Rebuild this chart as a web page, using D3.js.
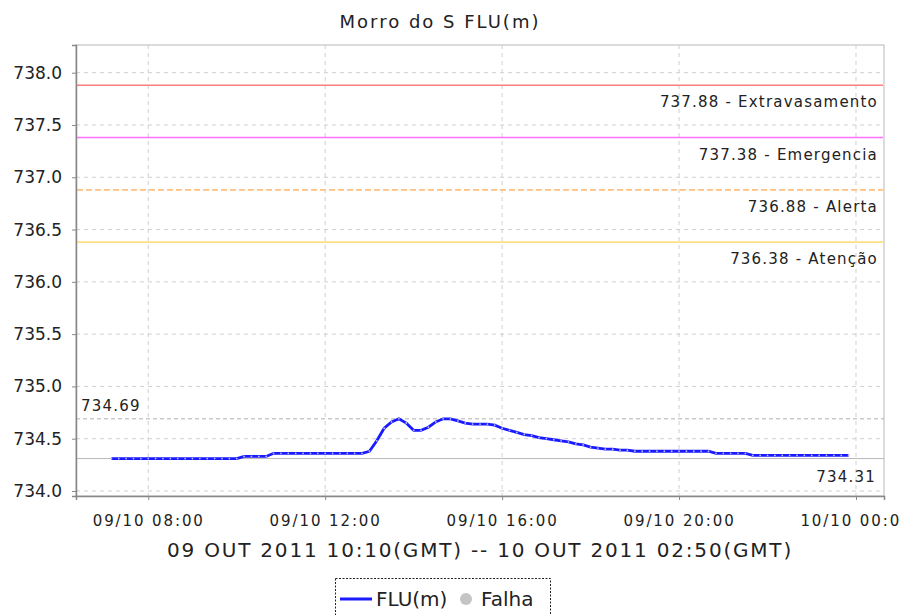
<!DOCTYPE html>
<html>
<head>
<meta charset="utf-8">
<script src="https://cdn.jsdelivr.net/npm/d3@7.9.0/dist/d3.min.js"></script>
<style>
  body { margin: 0; background: #fff; }
  text { font-family: "DejaVu Sans", sans-serif; fill: #222; }
</style>
</head>
<body>
<svg id="chart" width="901" height="615"></svg>
<script>
// chart data
const title = "Morro do S FLU(m)";
const subtitle = "09 OUT 2011 10:10(GMT) -- 10 OUT 2011 02:50(GMT)";
const firstSample = "2011-10-09T07:10:00";
const sampleMinutes = 10;
const levels = [
  734.31, 734.31, 734.31, 734.31, 734.31, 734.31, 734.31, 734.31, 734.31, 734.31,
  734.31, 734.31, 734.31, 734.31, 734.31, 734.31, 734.31, 734.31,
  734.33, 734.33, 734.33, 734.33,
  734.36, 734.36, 734.36, 734.36, 734.36, 734.36, 734.36, 734.36, 734.36, 734.36,
  734.36, 734.36, 734.36,
  734.38, 734.48, 734.60, 734.66, 734.69, 734.65, 734.58, 734.58, 734.61, 734.66,
  734.69, 734.69, 734.67, 734.65, 734.64, 734.64, 734.64, 734.63, 734.60, 734.58,
  734.56, 734.54, 734.53, 734.51, 734.50, 734.49, 734.48, 734.47, 734.45, 734.44,
  734.42, 734.41, 734.40, 734.40, 734.39, 734.39, 734.38,
  734.38, 734.38, 734.38, 734.38, 734.38, 734.38, 734.38, 734.38, 734.38, 734.38,
  734.36, 734.36, 734.36, 734.36, 734.36,
  734.34, 734.34, 734.34, 734.34, 734.34, 734.34, 734.34, 734.34, 734.34, 734.34,
  734.34, 734.34, 734.34, 734.34
];
const yTicks = [734.0, 734.5, 735.0, 735.5, 736.0, 736.5, 737.0, 737.5, 738.0];
const xTicks = ["2011-10-09T08:00:00", "2011-10-09T12:00:00", "2011-10-09T16:00:00",
                "2011-10-09T20:00:00", "2011-10-10T00:00:00"];
const limitValues = [737.88, 737.38, 736.88, 736.38];
const limitNames = ["Extravasamento", "Emergencia", "Alerta", "Atenção"];
const limitColors = ["#ff7f7f", "#ff70ff", "#ffc080", "#ffe080"];
const limitDashes = [null, null, "6,3", null];
const legendNames = ["FLU(m)", "Falha"];

const svg = d3.select("#chart");
const mLeft = 76, mRight = 884, mTop = 45, mBottom = 496;

const parse = d3.timeParse("%Y-%m-%dT%H:%M:%S");
const t0 = parse(firstSample);
const data = levels.map((v, i) => ({ t: d3.timeMinute.offset(t0, i * sampleMinutes), v }));
const tFirst = data[0].t, tLast = data[data.length - 1].t;

const x = d3.scaleTime()
  .domain([d3.timeMinute.offset(tFirst, -48), d3.timeMinute.offset(tLast, 48)])
  .range([mLeft, mRight]);
const y = d3.scaleLinear().domain([733.952, 738.265]).range([mBottom, mTop]);

const minV = d3.min(levels), maxV = d3.max(levels);

// title
svg.append("text").attr("x", 440).attr("y", 28)
  .attr("text-anchor", "middle").style("font-size", "18px").style("letter-spacing", "2px")
  .text(title);

// plot background
svg.append("rect").attr("x", mLeft).attr("y", mTop).attr("width", mRight - mLeft).attr("height", mBottom - mTop)
  .attr("fill", "#fff").attr("stroke", "#b8b8b8");

// grid
const grid = svg.append("g").attr("stroke", "#cfcfcf").attr("stroke-dasharray", "4,4");
grid.selectAll(".gy").data(yTicks).join("line")
  .attr("x1", mLeft).attr("x2", mRight).attr("y1", d => y(d)).attr("y2", d => y(d));
grid.selectAll(".gx").data(xTicks.map(parse)).join("line")
  .attr("y1", mTop).attr("y2", mBottom).attr("x1", d => x(d)).attr("x2", d => x(d));

// threshold lines
limitValues.forEach((v, i) => {
  svg.append("line").attr("x1", mLeft + 1).attr("x2", mRight - 1).attr("y1", y(v)).attr("y2", y(v))
    .attr("stroke", limitColors[i]).attr("stroke-width", 1.6)
    .attr("stroke-dasharray", limitDashes[i]);
  svg.append("text").attr("x", mRight - 6).attr("y", y(v) + 22)
    .attr("text-anchor", "end").style("font-size", "15px").style("letter-spacing", "1.2px")
    .text(`${d3.format(".2f")(v)} - ${limitNames[i]}`);
});

// max / min markers
svg.append("line").attr("x1", mLeft).attr("x2", mRight).attr("y1", y(maxV)).attr("y2", y(maxV))
  .attr("stroke", "#b0b0b0").attr("stroke-dasharray", "4,3");
svg.append("text").attr("x", mLeft + 5).attr("y", y(maxV) - 8)
  .style("font-size", "15px").style("letter-spacing", "1.2px").text(d3.format(".2f")(maxV));
svg.append("line").attr("x1", mLeft).attr("x2", mRight).attr("y1", y(minV)).attr("y2", y(minV))
  .attr("stroke", "#b8b8b8");
svg.append("text").attr("x", mRight - 8).attr("y", y(minV) + 23).attr("text-anchor", "end")
  .style("font-size", "15px").style("letter-spacing", "1.2px").text(d3.format(".2f")(minV));

// series
const line = d3.line().x(d => x(d.t)).y(d => y(d.v));
svg.append("path").datum(data).attr("d", line)
  .attr("fill", "none").attr("stroke", "#1a1aff").attr("stroke-width", 2.8);
svg.append("g").selectAll("circle").data(data).join("circle")
  .attr("cx", d => x(d.t)).attr("cy", d => y(d.v)).attr("r", 0.9).attr("fill", "#b8b8ff");

// axes
const yAxis = svg.append("g").attr("transform", `translate(${mLeft},0)`)
  .call(d3.axisLeft(y).tickValues(yTicks).tickFormat(d3.format(".1f")).tickSize(4).tickPadding(10));
const xAxis = svg.append("g").attr("transform", `translate(0,${mBottom})`)
  .call(d3.axisBottom(x).tickValues(xTicks.map(parse)).tickFormat(d3.timeFormat("%d/%m %H:%M"))
    .tickSize(4).tickPadding(15));
[yAxis, xAxis].forEach(a => {
  a.select(".domain").attr("stroke", "#888").attr("stroke-width", 1.5);
  a.selectAll(".tick line").attr("stroke", "#888");
  a.selectAll("text").style("font-family", "DejaVu Sans").attr("fill", "#222");
});
yAxis.selectAll("text").style("font-size", "17px");
xAxis.selectAll("text").style("font-size", "15px").style("letter-spacing", "1.9px");

// subtitle
svg.append("text").attr("x", (mLeft + mRight) / 2).attr("y", 557)
  .attr("text-anchor", "middle").style("font-size", "20px").style("letter-spacing", "1.8px")
  .text(subtitle);

// legend
const lg = svg.append("g");
lg.append("rect").attr("x", 335.5).attr("y", 578.5).attr("width", 215).attr("height", 45)
  .attr("fill", "#fff").attr("stroke", "#222").attr("stroke-dasharray", "2,1.5");
lg.append("line").attr("x1", 340).attr("x2", 372).attr("y1", 599).attr("y2", 599)
  .attr("stroke", "#1a1aff").attr("stroke-width", 3);
lg.append("text").attr("x", 376).attr("y", 606).style("font-size", "20px").text(legendNames[0]);
lg.append("circle").attr("cx", 466).attr("cy", 599).attr("r", 6).attr("fill", "#c4c4c4");
lg.append("text").attr("x", 481).attr("y", 606).style("font-size", "20px").text(legendNames[1]);
</script>
</body>
</html>
